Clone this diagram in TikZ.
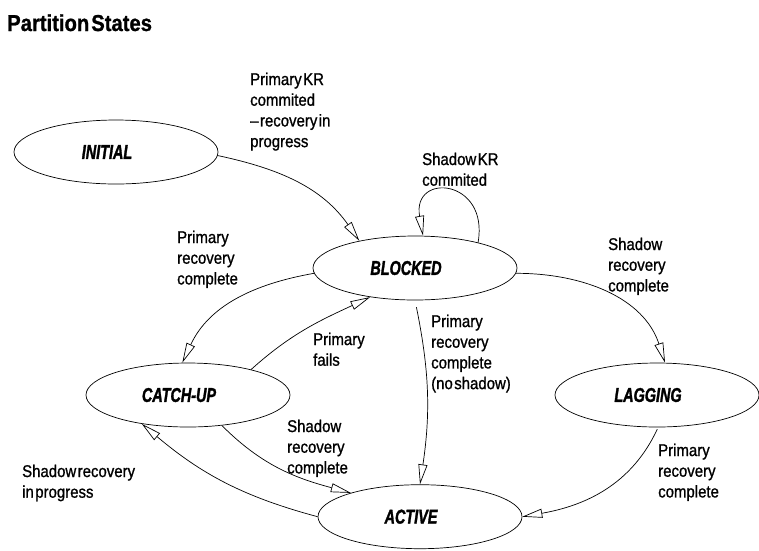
\documentclass[tikz,border=0pt]{standalone}
\usepackage{fontspec}
\setmainfont{Liberation Sans}
\newfontfamily\diagfont[FakeStretch=0.88,FakeBold=1,WordSpace=0.35,Ligatures=TeX]{Liberation Sans}
\newfontfamily\statefont[FakeStretch=0.72,FakeBold=1.5]{Liberation Sans}
\usetikzlibrary{positioning,arrows.meta,shapes.geometric}
\tikzset{
  state/.style={draw, ellipse, minimum width=204pt, minimum height=64pt, inner sep=0pt, line width=0.7pt,
    font=\statefont\bfseries\itshape\fontsize{20}{24}\selectfont, execute at end node={\hspace*{18pt}}},
  arrow/.style={-{Triangle[open, length=20pt, width=9pt]}, line width=0.7pt},
  edgeLabel/.style={anchor=north west, inner sep=0pt, align=left, font=\diagfont\fontsize{17}{20.7}\selectfont}
}

\begin{document}
\begin{tikzpicture}[x=1pt, y=1pt]
  \useasboundingbox (0,0) rectangle (759,-550);
  \node[anchor=base west, inner sep=0pt, font=\diagfont\bfseries\fontsize{23}{27}\selectfont] (title) at (7,-31) {Partition States};

  % states
  \node[state] (init) at (116,-152) {INITIAL};
  \node[state] (blocked) at (415,-268) {BLOCKED};
  \node[state] (catchup) at (188,-395) {CATCH-UP};
  \node[state] (lagging) at (657,-395) {LAGGING};
  \node[state, below=184pt of blocked, xshift=5pt] (active) {ACTIVE};

  % transitions
  \draw[arrow] (init.-2) to[out=-12, in=125] (blocked.154);
  \draw[arrow] (blocked.22) to[out=80, in=100, looseness=3] (blocked.76);
  \draw[arrow] (blocked.-3) to[out=0, in=108] (lagging.76);
  \draw[arrow] (blocked.183) to[out=190, in=65] (catchup.100);
  \draw[arrow] (catchup.22) to[out=42, in=205] (blocked.213);
  \draw[arrow, shorten <=7pt] (blocked.south) to[bend left=10] (active.north);
  \draw[arrow] (catchup.-42) to[out=-45, in=165] (active.161);
  \draw[arrow] (active.west) to[out=165, in=-40] (catchup.212);
  \draw[arrow, shorten <=2pt] (lagging.-88) to[out=-115, in=10] (active.east);

  % labels
  \node[edgeLabel] (krLabel) at (250,-72.5) {Primary KR\\commited\\– recovery in\\progress};
  \node[edgeLabel] (loopLabel) at (422,-152.5) {Shadow KR\\commited};
  \node[edgeLabel] (catchLabel) at (177,-230.5) {Primary\\recovery\\complete};
  \node[edgeLabel] (lagLabel) at (608,-237.5) {Shadow\\recovery\\complete};
  \node[edgeLabel] (failLabel) at (313,-332.5) {Primary\\fails};
  \node[edgeLabel] (noShadowLabel) at (431,-314.5) {Primary\\recovery\\complete\\(no shadow)};
  \node[edgeLabel] (shadowDoneLabel) at (287,-419.5) {Shadow\\recovery\\complete};
  \node[edgeLabel] (progressLabel) at (22,-464.5) {Shadow recovery\\in progress};
  \node[edgeLabel] (lagDoneLabel) at (658,-443.5) {Primary\\recovery\\complete};
\end{tikzpicture}
\end{document}
